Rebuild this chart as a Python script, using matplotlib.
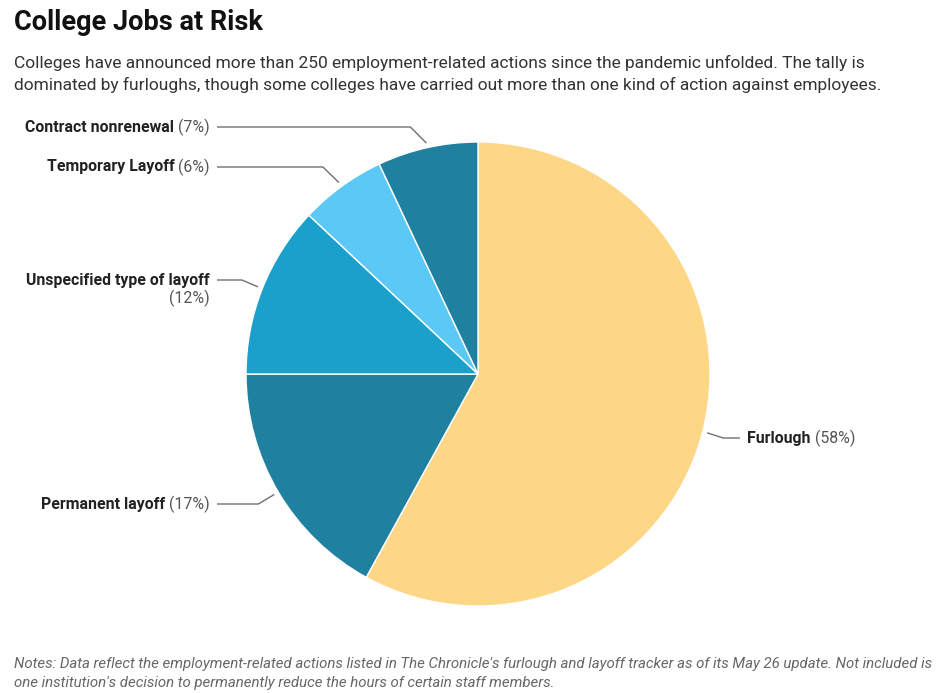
import numpy as np
import matplotlib
matplotlib.use('Agg')
from matplotlib import pyplot as plt
from matplotlib import rcParams
rcParams['font.family'] = 'Roboto'

# data, clockwise from 12 o'clock
labels = ['Furlough', 'Permanent layoff', 'Unspecified type of layoff', 'Temporary Layoff', 'Contract nonrenewal']
shares = [58, 17, 12, 6, 7]
colors = ['#FDD785', '#1F80A0', '#1BA0CC', '#5BC8F5', '#1F80A0']
label_y = [438, 504, 280, 167, 127]  # label rows, px from top

title = 'College Jobs at Risk'
subtitle = ['Colleges have announced more than 250 employment-related actions since the pandemic unfolded. The tally is',
            'dominated by furloughs, though some colleges have carried out more than one kind of action against employees.']
notes = ["Notes: Data reflect the employment-related actions listed in The Chronicle's furlough and layoff tracker as of its May 26 update. Not included is",
         "one institution's decision to permanently reduce the hours of certain staff members."]

W, H = 940, 693
cx, cy, R = 478, 374, 232.0
LFS = 11.4

fig = plt.figure(figsize=(W / 100, H / 100), dpi=100)
ax = fig.add_axes([0, 0, 1, 1])
wedges, _ = ax.pie(shares, colors=colors, startangle=90, counterclock=False, radius=1,
                   wedgeprops=dict(edgecolor='white', linewidth=1))
ax.set_xlim(-cx / R, (W - cx) / R)
ax.set_ylim(-(H - cy) / R, cy / R)
ax.set_aspect('auto')
ax.axis('off')


def dx(px):
    return (px - cx) / R


def dy(py):
    return (cy - py) / R


fig.canvas.draw()
renderer = fig.canvas.get_renderer()
inv = ax.transData.inverted()

for w, name, share, ly in zip(wedges, labels, shares, label_y):
    mid = np.radians((w.theta1 + w.theta2) / 2)
    ax_, ay_ = 1.02 * np.cos(mid), 1.02 * np.sin(mid)
    side = 1 if np.cos(mid) > 0 else -1
    ex = ax_ + side * 16 / R
    lx = dx(740) if side > 0 else dx(217)
    ax.plot([ax_, ex, lx], [ay_, dy(ly), dy(ly)], color='#707070', lw=1, solid_capstyle='butt')
    pct = '(%d%%)' % share
    tx = dx(747) if side > 0 else dx(210)
    if side > 0:
        t = ax.text(tx, dy(ly), name, ha='left', va='center', fontsize=LFS, fontweight='bold', color='#222222')
        bb = t.get_window_extent(renderer)
        x1 = inv.transform((bb.x1, 0))[0]
        ax.text(x1 + 4 / R, dy(ly), pct, ha='left', va='center', fontsize=LFS, color='#555555')
    elif len(name) > 20:
        ax.text(tx, dy(ly), name, ha='right', va='center', fontsize=LFS, fontweight='bold', color='#222222')
        ax.text(tx, dy(ly + 18), pct, ha='right', va='center', fontsize=LFS, color='#555555')
    else:
        t = ax.text(tx, dy(ly), pct, ha='right', va='center', fontsize=LFS, color='#555555')
        bb = t.get_window_extent(renderer)
        x0 = inv.transform((bb.x0, 0))[0]
        ax.text(x0 - 4 / R, dy(ly), name, ha='right', va='center', fontsize=LFS, fontweight='bold', color='#222222')

fig.text(14 / W, 1 - 30 / H, title, fontsize=19.5, fontweight='bold', color='#111111', va='baseline')
for i, line in enumerate(subtitle):
    fig.text(14 / W, 1 - (68 + 22 * i) / H, line, fontsize=12.5, color='#333333', va='baseline')
for i, line in enumerate(notes):
    fig.text(14 / W, 1 - (668 + 19 * i) / H, line, fontsize=10.8, style='italic', color='#666666', va='baseline')

fig.savefig('out.png', dpi=100)
